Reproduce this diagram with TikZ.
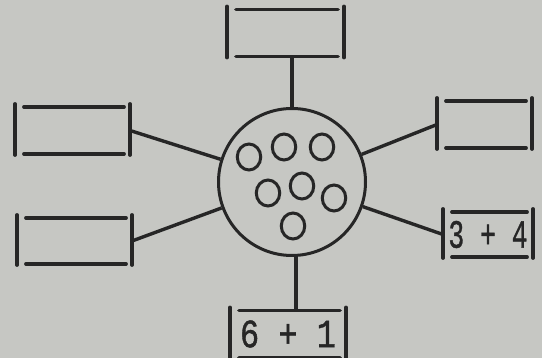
\documentclass[tikz,border=0pt]{standalone}
\usepackage{fontspec}
\usepackage{graphicx}
\newfontfamily\typefont[FakeBold=1.2]{Liberation Mono}
\usetikzlibrary{shapes.geometric}
\definecolor{paper}{HTML}{C6C7C3}
\definecolor{ink}{HTML}{262626}
\tikzset{
  boxline/.style={draw=ink, line width=3.8pt, line cap=round},
  wire/.style={draw=ink, line width=3.4pt},
  slot/.style={minimum width=#1, minimum height=47pt, inner sep=0pt, outer sep=0pt,
    font=\typefont\fontsize{40}{40}\selectfont, text=ink,
    append after command={
      ([yshift=3pt]\tikzlastnode.north west) edge[boxline] ([yshift=-1pt]\tikzlastnode.south west)
      ([yshift=3pt]\tikzlastnode.north east) edge[boxline] ([yshift=-1pt]\tikzlastnode.south east)
      ([xshift=9pt]\tikzlastnode.north west) edge[boxline] ([xshift=-6pt]\tikzlastnode.north east)
      ([xshift=9pt]\tikzlastnode.south west) edge[boxline] ([xshift=-6pt]\tikzlastnode.south east)
    }},
  hub/.style={circle, draw=ink, line width=3pt, minimum size=147pt, inner sep=0pt},
  bead/.style={ellipse, draw=ink, line width=3pt, minimum width=23.5pt, minimum height=26pt, inner sep=0pt}
}
\begin{document}
\begin{tikzpicture}[x=1pt,y=-1pt]
\fill[paper] (0,0) rectangle (542,358);
\useasboundingbox (0,0) rectangle (542,358);

\node[hub] (c) at (292,182) {};

\node[bead] (d1) at (249,157) {};
\node[bead] (d2) at (284,147) {};
\node[bead] (d3) at (322,147) {};
\node[bead] (d4) at (268,193) {};
\node[bead] (d5) at (302,186) {};
\node[bead] (d6) at (334,198) {};
\node[bead] (d7) at (293,226) {};

\node[slot=117pt] (top) at (285.5,33) {};
\node[slot=95pt] (rt) at (484.5,124.5) {};
\node[slot=90pt, minimum height=45pt] (rb) at (488,234.5) {\scalebox{0.66}[1]{3 + 4}};
\node[slot=116pt] (bot) at (288,334) {\raisebox{-3pt}{\scalebox{0.8}[1]{6 + 1}}};
\node[slot=115pt] (lt) at (72.5,130.5) {};
\node[slot=115pt, minimum height=46pt] (lb) at (74.5,241) {};

\draw[wire] (top.south -| c.north) -- (c.north);
\draw[wire] (c) -- (rt.west);
\draw[wire] (c) -- (rb.west);
\draw[wire] (c) -- (lt.east);
\draw[wire] (c) -- (lb.east);
\draw[wire] ([xshift=4pt]c.south) -- ([xshift=4pt]c.south |- bot.north);
\end{tikzpicture}
\end{document}
